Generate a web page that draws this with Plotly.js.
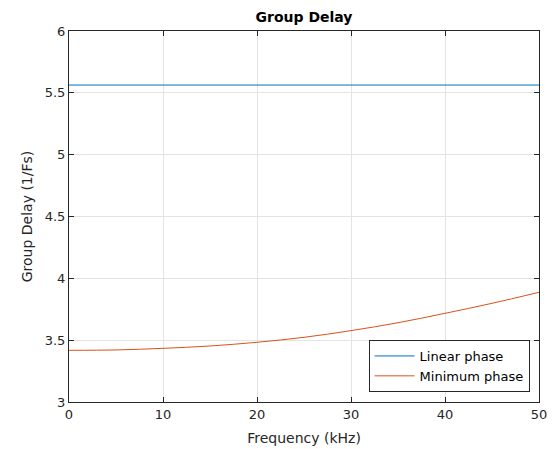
<!DOCTYPE html>
<html>
<head>
<meta charset="utf-8">
<script src="https://cdn.plot.ly/plotly-3.0.1.min.js"></script>
<style>html,body{margin:0;padding:0;background:#fff;}</style>
</head>
<body>
<div id="chart" style="width:554px;height:449px;"></div>
<script>
const freqKHz = [0, 5, 10, 15, 20, 25, 30, 35, 40, 45, 50];
const linearPhase = [5.563, 5.563, 5.563, 5.563, 5.563, 5.563, 5.563, 5.563, 5.563, 5.563, 5.563];
const minimumPhase = [3.418, 3.421, 3.434, 3.453, 3.483, 3.523, 3.577, 3.641, 3.717, 3.798, 3.887];
const seriesNames = ['Linear phase', 'Minimum phase'];
const xTicks = [0, 10, 20, 30, 40, 50];
const yTicks = [3, 3.5, 4, 4.5, 5, 5.5, 6];

const font = 'DejaVu Sans, sans-serif';
const traces = [
  {x: freqKHz, y: linearPhase, name: seriesNames[0], mode: 'lines', line: {color: '#0072BD', width: 1}},
  {x: freqKHz, y: minimumPhase, name: seriesNames[1], mode: 'lines', line: {color: '#D95319', width: 1, shape: 'spline'}}
];
const axisCommon = {
  showline: true, linecolor: '#262626', linewidth: 1, mirror: 'ticks',
  ticks: 'inside', ticklen: 5, tickcolor: '#262626',
  showgrid: true, gridcolor: '#e3e3e3', gridwidth: 1, zeroline: false,
  tickfont: {family: font, size: 13, color: '#262626'}
};
const layout = {
  width: 554, height: 449,
  margin: {l: 69, r: 15, t: 31, b: 47},
  paper_bgcolor: '#ffffff', plot_bgcolor: '#ffffff',
  title: {text: '<b>Group Delay</b>', font: {family: font, size: 14, color: '#000'}, x: 0.5, xref: 'paper', xanchor: 'center', y: 1 - 17/449, yref: 'container', yanchor: 'middle'},
  xaxis: Object.assign({}, axisCommon, {range: [0, 50], tickvals: xTicks, ticktext: xTicks.map(String),
    title: {text: 'Frequency (kHz)', font: {family: font, size: 14, color: '#262626'}, standoff: 12}}),
  yaxis: Object.assign({}, axisCommon, {range: [3, 6], tickvals: yTicks, ticktext: yTicks.map(String),
    title: {text: 'Group Delay (1/Fs)', font: {family: font, size: 14, color: '#262626'}, standoff: 8}}),
  showlegend: true,
  legend: {x: 0.98, y: 0.027, xanchor: 'right', yanchor: 'bottom', bgcolor: '#fff', bordercolor: '#262626', borderwidth: 1,
    font: {family: font, size: 13, color: '#000'}, tracegroupgap: 0, itemwidth: 40}
};
Plotly.newPlot('chart', traces, layout, {displayModeBar: false, staticPlot: true});
</script>
</body>
</html>
